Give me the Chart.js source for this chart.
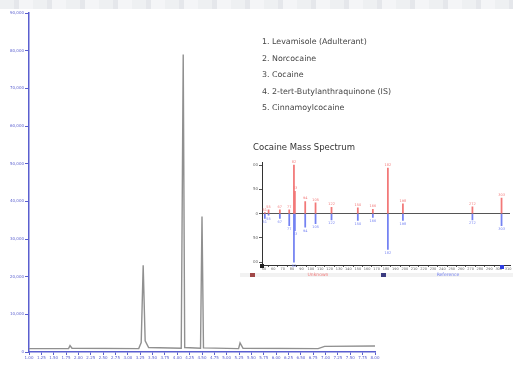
<!DOCTYPE html>
<html>
<head>
<meta charset="utf-8">
<script src="https://cdn.jsdelivr.net/npm/chart.js@4/dist/chart.umd.min.js"></script>
<style>
  html, body { margin: 0; padding: 0; background: #fff; }
  #page { position: relative; width: 513px; height: 365px; overflow: hidden; background: #fff; }
  #band { position: absolute; left: 0; top: 0; width: 513px; height: 9px;
    background: repeating-linear-gradient(90deg, #eef0f2 0 14px, #e5e7eb 14px 19px, #f4f5f7 19px 33px); }
  #main { position: absolute; left: 0; top: 0; }
  #inset { position: absolute; left: 240px; top: 138px; }
  #compounds { position: absolute; left: 262px; top: 34px; font-family: "DejaVu Sans", sans-serif;
    font-size: 7.9px; line-height: 16.5px; color: #454545; white-space: nowrap; }
</style>
</head>
<body>
<div id="page">
  <div id="band"></div>
  <canvas id="main" width="513" height="365"></canvas>
  <canvas id="inset" width="273" height="145"></canvas>
  <div id="compounds"></div>
</div>
<script>
// chromatogram trace (retention time, min / abundance)
const rtMinutes = [1.00, 1.80, 1.83, 1.87, 3.22, 3.27, 3.31, 3.35, 3.42, 4.08, 4.12, 4.15, 4.47, 4.50, 4.53, 5.24, 5.27, 5.33, 6.85, 6.98, 8.00];
const abundance = [900, 900, 1700, 1000, 900, 2500, 23000, 3000, 1200, 1000, 79000, 1200, 1000, 36000, 1100, 900, 2400, 1000, 900, 1500, 1600];

const compoundNames = [
  '1. Levamisole (Adulterant)',
  '2. Norcocaine',
  '3. Cocaine',
  '4. 2-tert-Butylanthraquinone (IS)',
  '5. Cinnamoylcocaine'
];

// mass spectrum: m/z, unknown (up), library reference (down)
const massToCharge = [51, 55, 67, 77, 82, 83, 94, 105, 122, 150, 166, 182, 198, 272, 303];
const unknownPct = [2, 8, 8, 8, 100, 46, 25, 22, 13, 12, 9, 94, 20, 14, 32];
const referencePct = [-10, -3, -10, -25, -100, -35, -28, -21, -13, -14, -8, -74, -14, -13, -25];
const spectrumTitle = 'Cocaine Mass Spectrum';
const seriesNames = ['Unknown', 'Reference'];

document.getElementById('compounds').innerHTML = compoundNames.map(n => `<div>${n}</div>`).join('');

const axisBlue = '#5a5fcf';

new Chart(document.getElementById('main'), {
  type: 'line',
  data: {
    datasets: [{
      data: rtMinutes.map((t, i) => ({ x: t, y: abundance[i] })),
      borderColor: '#909090',
      borderWidth: 1.4,
      pointRadius: 0,
      tension: 0
    }]
  },
  options: {
    responsive: false,
    animation: false,
    layout: { padding: { top: 13, right: 138, left: 0, bottom: 0 } },
    plugins: { legend: { display: false }, tooltip: { enabled: false } },
    scales: {
      x: {
        type: 'linear', min: 1, max: 8,
        grid: { drawOnChartArea: false, tickLength: 3, color: axisBlue },
        border: { color: axisBlue, width: 1.5 },
        ticks: { stepSize: 0.25, autoSkip: false, maxRotation: 0, padding: 1,
          font: { size: 4, family: 'DejaVu Sans' }, color: axisBlue,
          callback: v => v.toFixed(2) },
        afterFit: s => { s.height = 13; }
      },
      y: {
        min: 0, max: 90000,
        grid: { drawOnChartArea: false, tickLength: 4, color: axisBlue },
        border: { color: axisBlue, width: 1.5 },
        ticks: { stepSize: 10000, padding: 1, font: { size: 4, family: 'DejaVu Sans' }, color: axisBlue },
        afterFit: s => { s.width = 29; }
      }
    }
  }
});

// m/z labels above and below each stem, plus the series key under the axis
const stemLabels = {
  id: 'stemLabels',
  afterDatasetsDraw(chart) {
    const ctx = chart.ctx;
    ctx.save();
    ctx.font = '3.5px "DejaVu Sans"';
    ctx.textAlign = 'center';
    chart.data.datasets.forEach((ds, di) => {
      chart.getDatasetMeta(di).data.forEach((el, i) => {
        ctx.fillStyle = ds.backgroundColor;
        const y = di === 0 ? el.y - 2 : el.y + 4.5;
        ctx.fillText(String(massToCharge[i]), el.x, y);
      });
    });
    const a = chart.chartArea;
    const rowY = a.bottom + 10;
    ctx.fillStyle = '#f2f2f2';
    ctx.fillRect(0, rowY - 2, chart.width, 4);
    const keys = [[12, 78], [143, 208]];
    chart.data.datasets.forEach((ds, di) => {
      ctx.fillStyle = di === 0 ? '#a04848' : '#3a3a80';
      ctx.fillRect(keys[di][0] - 2, rowY - 2, 5, 4);
      ctx.fillStyle = ds.backgroundColor;
      ctx.font = '4.5px "DejaVu Sans"';
      ctx.textBaseline = 'middle';
      ctx.fillText(ds.label, keys[di][1], rowY);
    });
    ctx.fillStyle = '#222';
    ctx.fillRect(a.left - 2, a.bottom - 1, 4, 4);
    ctx.fillStyle = '#2f3fe0';
    ctx.fillRect(a.right - 10, a.bottom, 4, 4);
    ctx.restore();
  }
};

new Chart(document.getElementById('inset'), {
  type: 'bar',
  data: {
    datasets: [
      { label: seriesNames[0], data: massToCharge.map((m, i) => ({ x: m, y: unknownPct[i] })),
        backgroundColor: '#f27878', barThickness: 1.1, grouped: false },
      { label: seriesNames[1], data: massToCharge.map((m, i) => ({ x: m, y: referencePct[i] })),
        backgroundColor: '#7482f2', barThickness: 1.1, grouped: false }
    ]
  },
  options: {
    responsive: false,
    animation: false,
    layout: { padding: { top: 2, right: 3, left: 13, bottom: 0 } },
    plugins: {
      legend: { display: false },
      tooltip: { enabled: false },
      title: { display: true, text: spectrumTitle, align: 'start', color: '#333',
        font: { size: 8.5, family: 'DejaVu Sans', weight: 'normal' }, padding: { top: 3, bottom: 9 } }
    },
    scales: {
      x: {
        type: 'linear', min: 48, max: 312, offset: false,
        grid: { drawOnChartArea: false, tickLength: 2, color: '#555' },
        border: { color: '#333', width: 1 },
        afterBuildTicks: s => { s.ticks = []; for (let v = 50; v <= 310; v += 10) s.ticks.push({ value: v }); },
        ticks: { autoSkip: false, maxRotation: 0, padding: 0, font: { size: 3.5, family: 'DejaVu Sans' }, color: '#666' },
        afterFit: s => { s.height = 18; }
      },
      y: {
        min: -106, max: 106,
        afterBuildTicks: s => { s.ticks = [-100, -50, 0, 50, 100].map(v => ({ value: v })); },
        grid: { color: c => (c.tick && c.tick.value === 0 ? '#555' : 'rgba(0,0,0,0)'), tickColor: '#555', tickLength: 3 },
        border: { color: '#333', width: 1 },
        ticks: { padding: 1, font: { size: 4, family: 'DejaVu Sans' }, color: '#666' },
        afterFit: s => { s.width = 9; }
      }
    }
  },
  plugins: [stemLabels]
});
</script>
</body>
</html>
